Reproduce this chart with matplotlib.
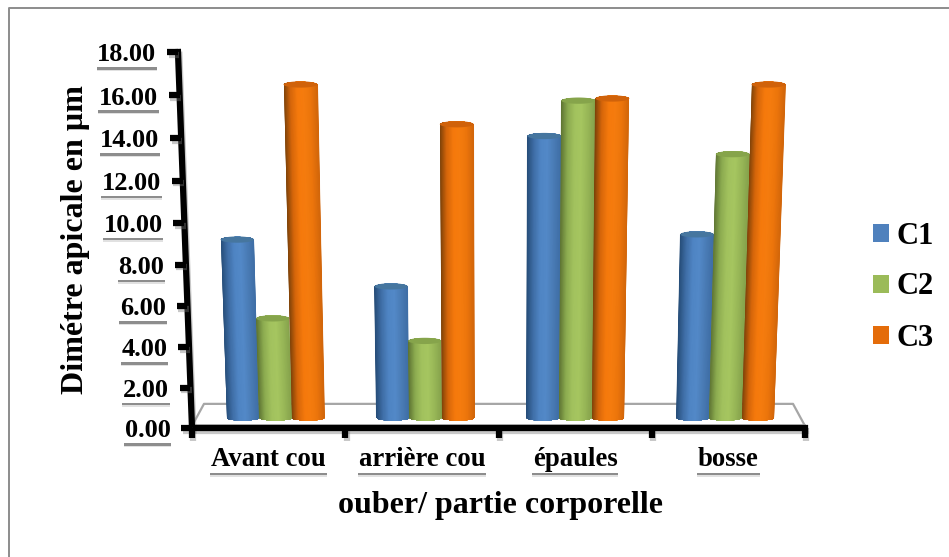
# -*- coding: utf-8 -*-
import numpy as np
import matplotlib
matplotlib.use("Agg")
import matplotlib.pyplot as plt
import matplotlib.patheffects as pe
from matplotlib.colors import LinearSegmentedColormap
from matplotlib.lines import Line2D
from matplotlib.patches import Patch, Polygon

# ============== DATA ==============
categories = ["Avant cou", "arrière cou", "épaules", "bosse"]
series_names = ["C1", "C2", "C3"]
c1_values = [9.2, 6.95, 14.1, 9.45]
c2_values = [5.4, 4.3, 15.75, 13.25]
c3_values = [16.5, 14.65, 15.85, 16.5]
y_ticks = [0, 2, 4, 6, 8, 10, 12, 14, 16, 18]

# ============== STYLE ==============
plt.rcParams["font.family"] = ["Liberation Serif", "DejaVu Serif"]
plt.rcParams["font.weight"] = "bold"

W, H = 949, 557
colors = ["#4f81bd", "#9bbb59", "#e46c0a"]
top_colors = ["#46769f", "#86a44b", "#d0620a"]
ramps = [
    ["#264d78", "#3f6ea6", "#4f85c4", "#5389c8", "#4a7cb6", "#3f6ea6"],
    ["#5d7433", "#8cab50", "#a2c25e", "#a6c660", "#98b757", "#86a34c"],
    ["#7a4108", "#d5660a", "#f5790c", "#f57c0e", "#ec750b", "#d2660a"],
]

X0, X1, Y0, Y18 = 192, 805, 428, 52   # pixel position of the value scale
BAR_W = 0.218      # in category units
BAR_SHIFT = 0.013
BASE = 0.5         # bars stand a bit behind the axis on the floor
DEPTH_BAR = 0.977
DEPTH_BACK = 0.958
LEAN = 0.00254


def warp(v):
    """Perspective squeeze of the value scale."""
    t = np.asarray(v, dtype=float) / 18.0
    return 18.0 * t * (0.96 + 0.04 * t)


def px(x, v, depth=1.0):
    """x position in category units, leaning outward with height."""
    return 2 + (np.asarray(x, dtype=float) - 2) * depth * (1 + LEAN * np.asarray(v, dtype=float))


def boxed(txt):
    # white box with soft shadow under it, like the original labels
    txt.set_bbox(dict(boxstyle="square,pad=0.03", fc="white", ec="none"))
    txt.get_bbox_patch().set_path_effects([
        pe.SimplePatchShadow(offset=(0, -3), shadow_rgbFace="#aaaaaa", alpha=0.35),
        pe.SimplePatchShadow(offset=(0, -1.8), shadow_rgbFace="#555555", alpha=0.6),
        pe.Normal(),
    ])


fig = plt.figure(figsize=(W / 100, H / 100), dpi=100, facecolor="white")
ax = fig.add_axes([X0 / W, 1 - Y0 / H, (X1 - X0) / W, (Y0 - Y18) / H])
ax.set_xlim(0, 4)
ax.set_ylim(0, 18)
ax.axis("off")

# outer frame, only top and left are inside the picture
fig.add_artist(Line2D([8.5 / W, 8.5 / W, 1], [0, 1 - 8 / H, 1 - 8 / H], transform=fig.transFigure,
                      color="#8c8c8c", lw=1.4))

# floor
floor_v = 1.2
ax.plot([px(0, 0), px(0, floor_v, DEPTH_BACK), px(4, floor_v, DEPTH_BACK), px(4, 0)],
        [0.1, warp(floor_v), warp(floor_v), 0.1], color="#a6a6a6", lw=1.6, zorder=1, clip_on=False)
ax.plot([0, 4], [0.16, 0.16], color="#b0b0b0", lw=1.2, zorder=1, clip_on=False)

# cylinders
all_series = [c1_values, c2_values, c3_values]
angles = np.linspace(0, np.pi, 31)
z = 2
for g in range(len(categories)):
    for s, values in enumerate(all_series):
        v = values[g]
        xc = g + 0.5 + BAR_SHIFT + (s - 1) * BAR_W
        half_w = BAR_W / 2
        ry = 0.15
        # outline: lower arc of the base, upper arc of the top
        bx = px(xc - half_w * np.cos(angles), BASE, DEPTH_BAR)
        by = warp(BASE) - ry * np.sin(angles)
        tx = px(xc + half_w * np.cos(angles), v, DEPTH_BAR)
        ty = warp(v) + ry * np.sin(angles)
        outline = Polygon(np.column_stack([np.r_[bx, tx], np.r_[by, ty]]),
                          closed=True, transform=ax.transData)
        # body shading follows the lean of the cylinder
        u = np.linspace(-half_w, half_w, 40)
        grid_x = np.vstack([px(xc + u, BASE, DEPTH_BAR), px(xc + u, v, DEPTH_BAR)])
        grid_y = np.vstack([np.full(40, warp(BASE) - ry), np.full(40, warp(v) + ry)])
        shade = np.tile(np.linspace(0, 1, 40), (2, 1))
        cmap = LinearSegmentedColormap.from_list("c%d" % s, ramps[s])
        mesh = ax.pcolormesh(grid_x, grid_y, shade, cmap=cmap, shading="gouraud",
                             vmin=0, vmax=1, zorder=z)
        mesh.set_clip_path(outline)
        # top cap
        a = np.linspace(0, 2 * np.pi, 61)
        ax.fill(px(xc + half_w * np.cos(a), v, DEPTH_BAR), warp(v) + ry * np.sin(a),
                color=top_colors[s], lw=0, zorder=z + 0.5)
        z += 1

# axes lines, thick and black, with a little shadow
shadow = [pe.SimpleLineShadow(offset=(1, -2), shadow_color="#777777", alpha=0.4), pe.Normal()]
ax.plot(px([0, 0], [0, 18]), [0, 18], color="black", lw=4.5, zorder=40,
        solid_capstyle="projecting", clip_on=False, path_effects=shadow)
ax.plot([0, 4], [0, 0], color="black", lw=4.5, zorder=40,
        solid_capstyle="projecting", clip_on=False, path_effects=shadow)
for t in y_ticks:
    xt = px(0, t)
    ax.plot([xt - 0.07, xt], [warp(t), warp(t)], color="black", lw=4.5, zorder=40,
            solid_capstyle="butt", clip_on=False, path_effects=shadow)
    lab = ax.annotate("%.2f" % t, xy=(xt, warp(t)), xytext=(-15.5, -2), textcoords="offset points",
                      ha="right", va="center", fontsize=19, annotation_clip=False, zorder=45)
    boxed(lab)
for i in range(5):
    ax.plot([i, i], [0, -0.5], color="black", lw=4.5, zorder=40,
            solid_capstyle="butt", clip_on=False, path_effects=shadow)

# category labels
for i, name in enumerate(categories):
    lab = ax.annotate(name, xy=(i + 0.5, 0), xytext=(0, -22.5), textcoords="offset points",
                      ha="center", va="center", fontsize=19.3, annotation_clip=False, zorder=45)
    boxed(lab)

# axis titles
fig.text(76 / W, 1 - 240 / H, "Dimétre apicale en µm", rotation=90, ha="center", va="center", fontsize=23)
fig.text(500 / W, 1 - 505 / H, "ouber/ partie corporelle", ha="center", va="center", fontsize=23)

# legend
handles = [Patch(fc=c, ec="none") for c in colors]
fig.legend(handles, series_names, loc="center left", bbox_to_anchor=(873 / W, 1 - 287 / H),
           frameon=False, fontsize=22, handlelength=0.53, handleheight=0.53,
           handletextpad=0.25, labelspacing=0.72, borderpad=0, borderaxespad=0)

fig.savefig("out.png", dpi=100)
